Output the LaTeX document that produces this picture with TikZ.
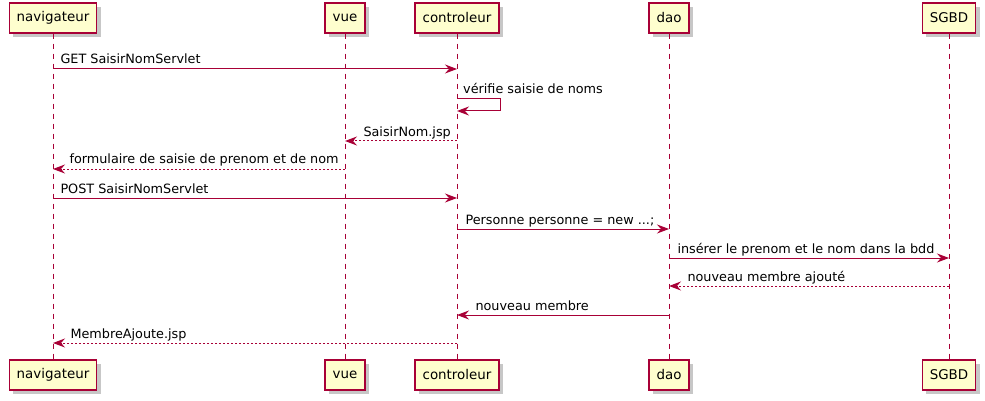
\documentclass[tikz,border=0pt]{standalone}
\usepackage{fontspec}
\setmainfont{DejaVu Sans}
\usetikzlibrary{arrows.meta,positioning,shadows}
\definecolor{umlred}{HTML}{A80036}
\definecolor{umlfill}{HTML}{FEFECE}
\begin{document}
\begin{tikzpicture}[
    x=1pt,
    y=-1pt,
    actor/.style={
        rectangle,
        draw=umlred,
        fill=umlfill,
        line width=1.4pt,
        minimum height=30pt,
        inner xsep=7.5pt,
        font=\fontsize{13.4}{16}\selectfont,
        drop shadow={shadow xshift=4pt, shadow yshift=-4pt, fill=black, opacity=0.22}
    },
    lifeline/.style={
        color=umlred,
        line width=1pt,
        dash pattern=on 5pt off 5pt
    },
    msg/.style={
        -{Stealth[length=12pt, width=9pt, inset=4pt]},
        color=umlred,
        line width=1pt
    },
    reply/.style={
        msg,
        dash pattern=on 2pt off 2pt
    },
    lbl/.style={
        font=\fontsize{12.8}{15}\selectfont,
        inner sep=0pt,
        text=black
    }
]
\useasboundingbox (0,0) rectangle (985,401);

% Participants (top)
\node [actor] at (53,18) (navT) {navigateur};
\node [actor, right of=navT, node distance=292pt] (vueT) {vue};
\node [actor, right of=vueT, node distance=112pt] (ctlT) {controleur};
\node [actor, right of=ctlT, node distance=212pt] (daoT) {dao};
\node [actor, right of=daoT, node distance=280pt] (sgbdT) {SGBD};

% Participants (bottom)
\node [actor, below of=navT, node distance=357pt] (navB) {navigateur};
\node [actor, below of=vueT, node distance=357pt] (vueB) {vue};
\node [actor, below of=ctlT, node distance=357pt] (ctlB) {controleur};
\node [actor, below of=daoT, node distance=357pt] (daoB) {dao};
\node [actor, below of=sgbdT, node distance=357pt] (sgbdB) {SGBD};

% Lifelines
\draw [lifeline] (navT) -- (navB);
\draw [lifeline] (vueT) -- (vueB);
\draw [lifeline] (ctlT) -- (ctlB);
\draw [lifeline] (daoT) -- (daoB);
\draw [lifeline] (sgbdT) -- (sgbdB);

% Message rows
\coordinate (r1) at (0,69);
\coordinate (r2) at (0,99);
\coordinate (r2b) at (0,111);
\coordinate (r3) at (0,141);
\coordinate (r4) at (0,169);
\coordinate (r5) at (0,198);
\coordinate (r6) at (0,229);
\coordinate (r7) at (0,258);
\coordinate (r8) at (0,286);
\coordinate (r9) at (0,315);
\coordinate (r10) at (0,343);

% Messages
\draw [msg] (navT |- r1) -- node[lbl, at start, anchor=base west, xshift=7pt, yshift=5pt] {GET SaisirNomServlet} (ctlT |- r1);
\draw [msg] (ctlT |- r2) -- ++(43,0) -- ++(0,12) -- (ctlT |- r2b);
\node [lbl, anchor=base west] at ([xshift=6pt, yshift=5pt]ctlT |- r2) (selflbl) {vérifie saisie de noms};
\draw [reply] (ctlT |- r3) -- node[lbl, at end, anchor=base west, xshift=18pt, yshift=5pt] {SaisirNom.jsp} (vueT |- r3);
\draw [reply] (vueT |- r4) -- node[lbl, at end, anchor=base west, xshift=16pt, yshift=5pt] {formulaire de saisie de prenom et de nom} (navT |- r4);
\draw [msg] (navT |- r5) -- node[lbl, at start, anchor=base west, xshift=7pt, yshift=5pt] {POST SaisirNomServlet} (ctlT |- r5);
\draw [msg] (ctlT |- r6) -- node[lbl, at start, anchor=base west, xshift=8pt, yshift=5pt] {Personne personne = new ...;} (daoT |- r6);
\draw [msg] (daoT |- r7) -- node[lbl, at start, anchor=base west, xshift=8pt, yshift=5pt] {insérer le prenom et le nom dans la bdd} (sgbdT |- r7);
\draw [reply] (sgbdT |- r8) -- node[lbl, at end, anchor=base west, xshift=18pt, yshift=5pt] {nouveau membre ajouté} (daoT |- r8);
\draw [msg] (daoT |- r9) -- node[lbl, at end, anchor=base west, xshift=18pt, yshift=5pt] {nouveau membre} (ctlT |- r9);
\draw [reply] (ctlT |- r10) -- node[lbl, at end, anchor=base west, xshift=17pt, yshift=5pt] {MembreAjoute.jsp} (navT |- r10);

\end{tikzpicture}
\end{document}
